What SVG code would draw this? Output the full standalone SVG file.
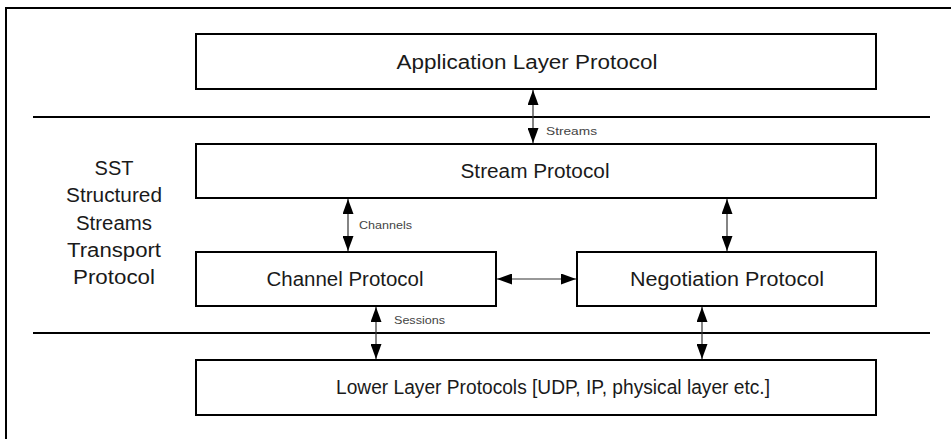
<svg xmlns="http://www.w3.org/2000/svg" width="951" height="439" viewBox="0 0 951 439">
<style>
  .box { fill: #ffffff; stroke: #000000; stroke-width: 2; }
  .frame { fill: none; stroke: #000000; stroke-width: 2; }
  .sep { stroke: #000000; stroke-width: 2; }
  .conn { stroke: #333333; stroke-width: 1.2; fill: none; marker-start: url(#ah); marker-end: url(#ah); }
  .lbl { font-family: "Liberation Sans", Arial, sans-serif; font-size: 20px; fill: #1a1a1a; text-anchor: middle; }
  .side { font-family: "Liberation Sans", Arial, sans-serif; font-size: 20px; fill: #1a1a1a; text-anchor: middle; }
  .small { font-family: "Liberation Sans", Arial, sans-serif; font-size: 11px; fill: #444444; }
</style>
<defs>
  <marker id="ah" viewBox="0 0 15 11" refX="15" refY="5.5" markerWidth="15" markerHeight="11" markerUnits="userSpaceOnUse" orient="auto-start-reverse">
    <path d="M0,0 L15,5.5 L0,11 Z" fill="#000000"/>
  </marker>
</defs>
<rect width="951" height="439" fill="#ffffff"/>
<g id="frame">
  <path class="frame" d="M6,439 L6,8 L951,8"/>
  <line class="sep" x1="33" y1="117" x2="930" y2="117"/>
  <line class="sep" x1="33" y1="333" x2="930" y2="333"/>
</g>
<g id="sst-label">
  <text class="side" x="114" y="175">SST</text>
  <text class="side" x="114" y="202" textLength="96" lengthAdjust="spacingAndGlyphs">Structured</text>
  <text class="side" x="114" y="230" textLength="76" lengthAdjust="spacingAndGlyphs">Streams</text>
  <text class="side" x="114" y="257" textLength="94" lengthAdjust="spacingAndGlyphs">Transport</text>
  <text class="side" x="114" y="284" textLength="82" lengthAdjust="spacingAndGlyphs">Protocol</text>
</g>
<g id="app">
  <rect class="box" x="196" y="34" width="680" height="55"/>
  <text class="lbl" x="527" y="69" textLength="261" lengthAdjust="spacingAndGlyphs">Application Layer Protocol</text>
</g>
<g id="stream">
  <rect class="box" x="196" y="144" width="680" height="54"/>
  <text class="lbl" x="535" y="178" textLength="149" lengthAdjust="spacingAndGlyphs">Stream Protocol</text>
</g>
<g id="channel">
  <rect class="box" x="196" y="252" width="300" height="54"/>
  <text class="lbl" x="345" y="286" textLength="157" lengthAdjust="spacingAndGlyphs">Channel Protocol</text>
</g>
<g id="negotiation">
  <rect class="box" x="577" y="252" width="299" height="54"/>
  <text class="lbl" x="727" y="286" textLength="194" lengthAdjust="spacingAndGlyphs">Negotiation Protocol</text>
</g>
<g id="lower">
  <rect class="box" x="196" y="360" width="680" height="55"/>
  <text class="lbl" x="553" y="394" textLength="434" lengthAdjust="spacingAndGlyphs">Lower Layer Protocols [UDP, IP, physical layer etc.]</text>
</g>
<g id="connectors">
  <line class="conn" x1="533" y1="90" x2="533" y2="143"/>
  <line class="conn" x1="348" y1="199" x2="348" y2="251"/>
  <line class="conn" x1="727" y1="199" x2="727" y2="251"/>
  <line class="conn" x1="497" y1="279" x2="576" y2="279"/>
  <line class="conn" x1="376" y1="307" x2="376" y2="359"/>
  <line class="conn" x1="702" y1="307" x2="702" y2="359"/>
  <text class="small" x="546" y="135" textLength="51" lengthAdjust="spacingAndGlyphs">Streams</text>
  <text class="small" x="359" y="229" textLength="53" lengthAdjust="spacingAndGlyphs">Channels</text>
  <text class="small" x="394" y="324" textLength="51" lengthAdjust="spacingAndGlyphs">Sessions</text>
</g>
</svg>
